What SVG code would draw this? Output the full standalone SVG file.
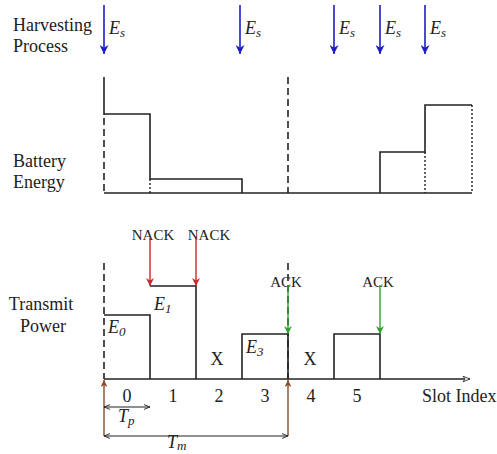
<svg xmlns="http://www.w3.org/2000/svg" width="497" height="454" viewBox="0 0 497 454">
<style>
text{font-family:"Liberation Serif","Times New Roman",serif;fill:#222}
.lbl{font-size:18px}
.small{font-size:15px}
.it{font-style:italic;font-size:18px}
.sub{font-size:13px}
.ln{stroke:#222;stroke-width:1.6;fill:none}
.dash{stroke:#222;stroke-width:1.6;stroke-dasharray:7 4;fill:none}
.dot{stroke:#222;stroke-width:1.4;stroke-dasharray:2 2;fill:none}
.blue{stroke:#1c1cc8;stroke-width:1.6;fill:none}
.red{stroke:#c42a2a;stroke-width:1.4;fill:none}
.green{stroke:#2e9e2e;stroke-width:1.4;fill:none}
.brown{stroke:#8a4a2a;stroke-width:1.4;fill:none}
.blk{stroke:#222;stroke-width:1.2;fill:none}
</style>
<defs>
<marker id="mb" viewBox="0 0 10 10" refX="10" refY="5" markerWidth="16" markerHeight="9" markerUnits="userSpaceOnUse" orient="auto"><path d="M0,0 L10,5 L0,10 L3,5 z" fill="#1c1cc8"/></marker>
<marker id="mr" viewBox="0 0 10 10" refX="10" refY="5" markerWidth="14" markerHeight="8" markerUnits="userSpaceOnUse" orient="auto"><path d="M0,0 L10,5 L0,10 L3,5 z" fill="#c42a2a"/></marker>
<marker id="mg" viewBox="0 0 10 10" refX="10" refY="5" markerWidth="14" markerHeight="8" markerUnits="userSpaceOnUse" orient="auto"><path d="M0,0 L10,5 L0,10 L3,5 z" fill="#2e9e2e"/></marker>
<marker id="mn" viewBox="0 0 10 10" refX="10" refY="5" markerWidth="12" markerHeight="7" markerUnits="userSpaceOnUse" orient="auto"><path d="M0,0 L10,5 L0,10 L3,5 z" fill="#8a4a2a"/></marker>
<marker id="mk" viewBox="0 0 10 10" refX="10" refY="5" markerWidth="9" markerHeight="6" markerUnits="userSpaceOnUse" orient="auto-start-reverse"><path d="M0,1 L10,5 L0,9" fill="none" stroke="#222" stroke-width="1.5"/></marker>
<marker id="mo" viewBox="0 0 10 10" refX="10" refY="5" markerWidth="12" markerHeight="7" markerUnits="userSpaceOnUse" orient="auto"><path d="M0,1 L10,5 L0,9 L3,5 z" fill="#fff" stroke="#222" stroke-width="1.2"/></marker>
</defs>

<g id="labels">
<text class="lbl" x="13" y="31">Harvesting</text>
<text class="lbl" x="13" y="52">Process</text>
<text class="lbl" x="13" y="167">Battery</text>
<text class="lbl" x="13" y="188">Energy</text>
<text class="lbl" x="41" y="310" text-anchor="middle">Transmit</text>
<text class="lbl" x="43" y="332" text-anchor="middle">Power</text>
</g>

<g id="harvesting">
<line class="blue" x1="104" y1="5" x2="104" y2="54" marker-end="url(#mb)"/>
<line class="blue" x1="240" y1="5" x2="240" y2="54" marker-end="url(#mb)"/>
<line class="blue" x1="334" y1="5" x2="334" y2="54" marker-end="url(#mb)"/>
<line class="blue" x1="380" y1="5" x2="380" y2="54" marker-end="url(#mb)"/>
<line class="blue" x1="425" y1="5" x2="425" y2="54" marker-end="url(#mb)"/>
<text class="it" x="109" y="34">E<tspan class="sub" dy="3">s</tspan></text>
<text class="it" x="245" y="34">E<tspan class="sub" dy="3">s</tspan></text>
<text class="it" x="339" y="34">E<tspan class="sub" dy="3">s</tspan></text>
<text class="it" x="385" y="34">E<tspan class="sub" dy="3">s</tspan></text>
<text class="it" x="430" y="34">E<tspan class="sub" dy="3">s</tspan></text>
</g>

<g id="battery">
<line class="ln" x1="104" y1="77" x2="104" y2="115"/>
<line class="dash" x1="104" y1="118" x2="104" y2="193"/>
<polyline class="ln" points="104,114 150,114 150,179 242,179 242,193"/>
<line class="dot" x1="150" y1="179" x2="150" y2="193"/>
<line class="ln" x1="104" y1="193" x2="472" y2="193"/>
<line class="dash" x1="288" y1="77" x2="288" y2="193"/>
<polyline class="ln" points="380,193 380,152 425,152 425,105 472,105"/>
<line class="dot" x1="425" y1="152" x2="425" y2="193"/>
<line class="dot" x1="472" y1="105" x2="472" y2="193"/>
</g>

<g id="transmit">
<line class="dash" x1="104" y1="263" x2="104" y2="379"/>
<line class="dash" x1="288" y1="263" x2="288" y2="379"/>
<polyline class="ln" points="104,315 150,315 150,379"/>
<polyline class="ln" points="150,286 196,286 196,379"/>
<polyline class="ln" points="242,379 242,334 288,334 288,379"/>
<polyline class="ln" points="334,379 334,334 380,334 380,379"/>
<line class="ln" x1="104" y1="379" x2="470" y2="379" marker-end="url(#mo)"/>
<text class="it" x="108" y="333">E<tspan class="sub" dy="3">0</tspan></text>
<text class="it" x="154" y="310">E<tspan class="sub" dy="3">1</tspan></text>
<text class="it" x="246" y="353">E<tspan class="sub" dy="3">3</tspan></text>
<text class="lbl" x="217" y="365" text-anchor="middle">X</text>
<text class="lbl" x="310" y="365" text-anchor="middle">X</text>
<text class="lbl" x="127" y="402" text-anchor="middle">0</text>
<text class="lbl" x="173" y="402" text-anchor="middle">1</text>
<text class="lbl" x="219" y="402" text-anchor="middle">2</text>
<text class="lbl" x="265" y="402" text-anchor="middle">3</text>
<text class="lbl" x="311" y="402" text-anchor="middle">4</text>
<text class="lbl" x="357" y="402" text-anchor="middle">5</text>
<text class="lbl" x="422" y="402">Slot Index</text>
<text class="small" x="153" y="240" text-anchor="middle">NACK</text>
<text class="small" x="209" y="240" text-anchor="middle">NACK</text>
<text class="small" x="286" y="287" text-anchor="middle">ACK</text>
<text class="small" x="378" y="287" text-anchor="middle">ACK</text>
</g>

<g id="connectors">
<line class="red" x1="150" y1="238" x2="150" y2="286" marker-end="url(#mr)"/>
<line class="red" x1="196" y1="238" x2="196" y2="286" marker-end="url(#mr)"/>
<line class="green" x1="288" y1="285" x2="288" y2="334" marker-end="url(#mg)"/>
<line class="green" x1="380" y1="285" x2="380" y2="334" marker-end="url(#mg)"/>
<line class="brown" x1="104" y1="436" x2="104" y2="380" marker-end="url(#mn)"/>
<line class="brown" x1="288" y1="436" x2="288" y2="380" marker-end="url(#mn)"/>
<line class="blk" x1="104" y1="407" x2="150" y2="407" marker-start="url(#mk)" marker-end="url(#mk)"/>
<line class="blk" x1="104" y1="436" x2="288" y2="436" marker-start="url(#mk)" marker-end="url(#mk)"/>
<text class="it" x="118" y="422">T<tspan class="sub" dy="3">p</tspan></text>
<text class="it" x="167" y="448">T<tspan class="sub" dy="2">m</tspan></text>
</g>
</svg>
